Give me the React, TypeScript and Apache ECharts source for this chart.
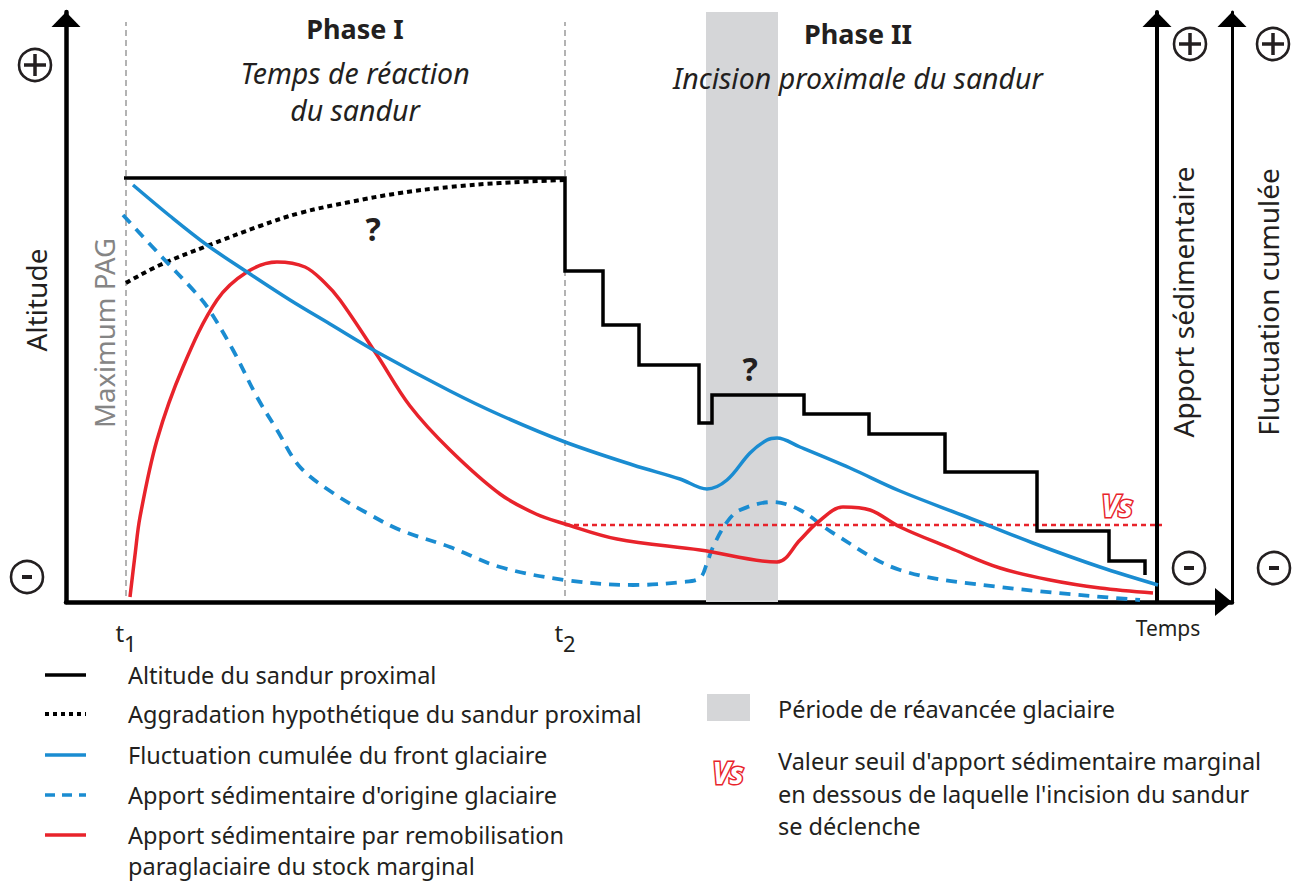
import React, { useEffect, useRef } from 'react';
import * as echarts from 'echarts';

// Data units: time along x (0 = vertical axis), level along y (0 = time axis)
const xMax = 1166;
const yMax = 590;

// t1 / t2 markers on the time axis
const tMarks = [60, 499];
const tSubs = ['1', '2'];

// Glacial readvance period (grey band)
const readvance = [640, 712];

// Altitude of proximal sandur (step levels, step: 'end')
const altitudeSteps: [number, number][] = [
  [58, 424], [499, 331], [537, 277], [573, 237], [633, 179], [646, 207],
  [738, 188], [803, 168], [879, 130], [971, 71], [1043, 41], [1079, 27],
];

// Hypothetical aggradation (dotted)
const aggradation: [number, number][] = [
  [60, 319], [94, 337], [141, 356], [194, 376], [234, 389], [284, 400],
  [334, 409], [384, 415], [434, 419], [499, 422],
];

// Cumulated glacier front fluctuation (blue solid)
const glacierFront: [number, number][] = [
  [67, 417], [104, 386], [141, 357], [181, 330], [224, 302], [264, 278],
  [311, 250], [384, 211], [434, 187], [499, 160], [567, 137], [614, 123],
  [641, 113], [661, 122], [684, 149], [701, 162], [711, 164], [734, 155],
  [784, 134], [834, 111], [901, 85], [967, 59], [1034, 35], [1092, 17],
];

// Glacial sediment supply (blue dashed)
const glacialSupply: [number, number][] = [
  [57, 387], [94, 347], [129, 310], [142, 294], [167, 252], [191, 205],
  [211, 172], [234, 135], [267, 109], [301, 89], [334, 72], [384, 55],
  [434, 35], [499, 22], [567, 17], [617, 20], [634, 24], [641, 39],
  [647, 55], [661, 80], [674, 92], [707, 100], [734, 92], [767, 69],
  [834, 32], [934, 15], [1074, 2],
];

// Paraglacial remobilisation supply (red)
const paraglacialSupply: [number, number][] = [
  [64, 5], [69, 47], [74, 85], [91, 162], [117, 235], [151, 302], [181, 330],
  [211, 340], [239, 335], [259, 319], [274, 302], [311, 247], [344, 196],
  [384, 152], [434, 108], [470, 88], [499, 78], [551, 63], [634, 52], [711, 40],
  [734, 62], [751, 79], [777, 95], [804, 92], [834, 75], [884, 54],
  [934, 34], [984, 22], [1034, 14], [1087, 9],
];

// Threshold Vs
const vsLevel = 77;
const vsRange = [499, 1096];

const FONT = 'Noto Sans';
const INK = '#231f20';
const BLUE = '#1a8cd1';
const RED = '#e8232b';
const GREY_BAND = '#d5d6d8';
const Z = 100;

const legendRows = [
  { label: 'Altitude du sandur proximal', color: '#000', dash: null as number[] | null, width: 3.5 },
  { label: 'Aggradation hypothétique du sandur proximal', color: '#000', dash: [4, 4], width: 4 },
  { label: 'Fluctuation cumulée du front glaciaire', color: BLUE, dash: null, width: 3.5 },
  { label: "Apport sédimentaire d'origine glaciaire", color: BLUE, dash: [10, 7], width: 3.5 },
  { label: 'Apport sédimentaire par remobilisation', color: RED, dash: null, width: 3.5 },
];
const legendRowY = [675, 714, 755, 795, 835];
const vsLegendLines = [
  "Valeur seuil d'apport sédimentaire marginal",
  "en dessous de laquelle l'incision du sandur",
  'se déclenche',
];

function txt(text: string, x: number, y: number, opts: any = {}) {
  return {
    type: 'text',
    x,
    y,
    z: Z,
    rotation: opts.rotation || 0,
    silent: true,
    style: {
      text,
      fill: opts.fill || INK,
      fontSize: opts.fontSize || 23.5,
      fontFamily: FONT,
      fontWeight: opts.fontWeight || 'normal',
      fontStyle: opts.fontStyle || 'normal',
      align: opts.align || 'left',
      verticalAlign: 'middle',
      stroke: opts.stroke,
      lineWidth: opts.lineWidth,
    },
  };
}

function signCircle(cx: number, cy: number, plus: boolean) {
  const children: any[] = [
    { type: 'circle', z: Z, shape: { cx, cy, r: 16 }, style: { fill: 'none', stroke: INK, lineWidth: 2.6 } },
  ];
  if (plus) {
    children.push({ type: 'line', z: Z, shape: { x1: cx - 11, y1: cy, x2: cx + 11, y2: cy }, style: { stroke: INK, lineWidth: 3.5 } });
    children.push({ type: 'line', z: Z, shape: { x1: cx, y1: cy - 11, x2: cx, y2: cy + 11 }, style: { stroke: INK, lineWidth: 3.5 } });
  } else {
    children.push({ type: 'line', z: Z, shape: { x1: cx - 5, y1: cy, x2: cx + 5, y2: cy }, style: { stroke: INK, lineWidth: 4 } });
  }
  return { type: 'group', z: Z, silent: true, children };
}

function vsText(x: number, y: number) {
  return txt('Vs', x, y, {
    fill: '#fff', stroke: RED, lineWidth: 3, fontSize: 30, fontWeight: 'bold', fontStyle: 'italic', align: 'center',
  });
}

export default function App() {
  const ref = useRef<HTMLDivElement>(null);
  useEffect(() => {
    if (!ref.current) return;
    const chart = echarts.init(ref.current, undefined, { renderer: 'svg' });

    const yAxisBase = (position: string, offset: number, width: number) => ({
      type: 'value',
      min: 0,
      max: yMax,
      position,
      offset,
      axisLine: {
        show: true,
        onZero: false,
        lineStyle: { color: '#000', width },
        symbol: ['none', 'triangle'],
        symbolSize: [29, 15],
        symbolOffset: [0, -7.5],
      },
      axisTick: { show: false },
      axisLabel: { show: false },
      splitLine: { show: false },
    });

    const lineSeries = (name: string, data: any, color: string, width: number, type: any, extra: any = {}) => ({
      name,
      type: 'line',
      data,
      showSymbol: false,
      symbol: 'none',
      silent: true,
      lineStyle: { color, width, type, cap: 'butt', join: 'miter' },
      ...extra,
    });

    const graphics: any[] = [
      txt('Phase I', 355, 28, { fontSize: 27, fontWeight: 'bold', align: 'center' }),
      txt('Temps de réaction', 355, 73, { fontSize: 28.5, fontStyle: 'italic', align: 'center' }),
      txt('du sandur', 355, 110, { fontSize: 28.5, fontStyle: 'italic', align: 'center' }),
      txt('Phase II', 858, 33, { fontSize: 27, fontWeight: 'bold', align: 'center' }),
      txt('Incision proximale du sandur', 858, 78, { fontSize: 28.5, fontStyle: 'italic', align: 'center' }),
      txt('?', 373, 228, { fontSize: 32, fontWeight: 'bold', align: 'center' }),
      txt('?', 750, 368, { fontSize: 32, fontWeight: 'bold', align: 'center' }),
      txt('Maximum PAG', 104, 333, { fontSize: 27.5, fill: '#858585', align: 'center', rotation: Math.PI / 2 }),
      txt('Altitude', 36, 300, { fontSize: 28, align: 'center', rotation: Math.PI / 2 }),
      txt('Apport sédimentaire', 1183, 302, { fontSize: 28, align: 'center', rotation: Math.PI / 2 }),
      txt('Fluctuation cumulée', 1268, 302, { fontSize: 28, align: 'center', rotation: Math.PI / 2 }),
      txt('Temps', 1168, 628, { fontSize: 21, align: 'center' }),
      signCircle(35, 65, true),
      signCircle(27, 577, false),
      signCircle(1190, 44, true),
      signCircle(1273, 44, true),
      signCircle(1189, 568, false),
      signCircle(1274, 568, false),
      vsText(1117, 505),
    ];

    legendRows.forEach((row, i) => {
      const y = legendRowY[i];
      graphics.push({
        type: 'line',
        z: Z,
        silent: true,
        shape: { x1: 45, y1: y, x2: 86, y2: y },
        style: { stroke: row.color, lineWidth: row.width, lineDash: row.dash || undefined },
      });
      graphics.push(txt(row.label, 128, y));
    });
    graphics.push(txt('paraglaciaire du stock marginal', 128, 866));
    graphics.push({ type: 'rect', z: Z, silent: true, shape: { x: 707, y: 694, width: 43, height: 27 }, style: { fill: GREY_BAND } });
    graphics.push(txt('Période de réavancée glaciaire', 778, 709));
    graphics.push(vsText(728, 772));
    vsLegendLines.forEach((l, i) => graphics.push(txt(l, 778, 761 + i * 32.5)));

    const option: any = {
      animation: false,
      backgroundColor: '#fff',
      grid: { left: 66, right: 64, top: 12, bottom: 281, containLabel: false },
      xAxis: {
        type: 'value',
        min: 0,
        max: xMax,
        axisLine: {
          show: true,
          onZero: false,
          lineStyle: { color: '#000', width: 4.5 },
          symbol: ['none', 'triangle'],
          symbolSize: [28, 17],
          symbolOffset: [0, -8.5],
        },
        axisTick: { show: false },
        splitLine: { show: false },
        axisLabel: {
          customValues: tMarks,
          margin: 8,
          formatter: (v: number) => `{t|t}{s|${tSubs[tMarks.indexOf(v)]}}`,
          rich: {
            t: { fontSize: 24, color: INK, fontFamily: FONT },
            s: { fontSize: 22, color: INK, fontFamily: FONT, padding: [22, 0, 0, 0] },
          },
        },
      },
      yAxis: [yAxisBase('left', 0, 4.5), yAxisBase('right', -75, 4), yAxisBase('right', 0, 3)],
      series: [
        lineSeries('Altitude du sandur proximal', altitudeSteps, '#000', 3.5, 'solid', {
          step: 'end',
          z: 4,
          markArea: {
            silent: true,
            itemStyle: { color: GREY_BAND },
            data: [[{ coord: [readvance[0], 0] }, { coord: [readvance[1], yMax] }]],
          },
          markLine: {
            silent: true,
            symbol: ['none', 'none'],
            label: { show: false },
            z: 1,
            lineStyle: { color: '#9a9a9a', width: 1.5, type: [6, 4] },
            data: tMarks.map((t) => [{ coord: [t, 6] }, { coord: [t, 580] }]),
          },
        }),
        lineSeries('Aggradation hypothétique du sandur proximal', aggradation, '#000', 4, [5, 4], { smooth: 0.4 }),
        lineSeries('Seuil Vs', [[vsRange[0], vsLevel], [vsRange[1], vsLevel]], RED, 2.5, [5, 4]),
        lineSeries("Apport sédimentaire d'origine glaciaire", glacialSupply, BLUE, 3.8, [11, 8], { smooth: 0.35 }),
        lineSeries('Apport sédimentaire par remobilisation', paraglacialSupply, RED, 3.5, 'solid', { smooth: 0.35 }),
        lineSeries('Fluctuation cumulée du front glaciaire', glacierFront, BLUE, 3.5, 'solid', { smooth: 0.35 }),
      ],
      graphic: graphics,
    };
    chart.setOption(option);
    return () => chart.dispose();
  }, []);
  return <div ref={ref} style={{ position: 'absolute', left: 0, top: 0, width: 1296, height: 883 }} />;
}
